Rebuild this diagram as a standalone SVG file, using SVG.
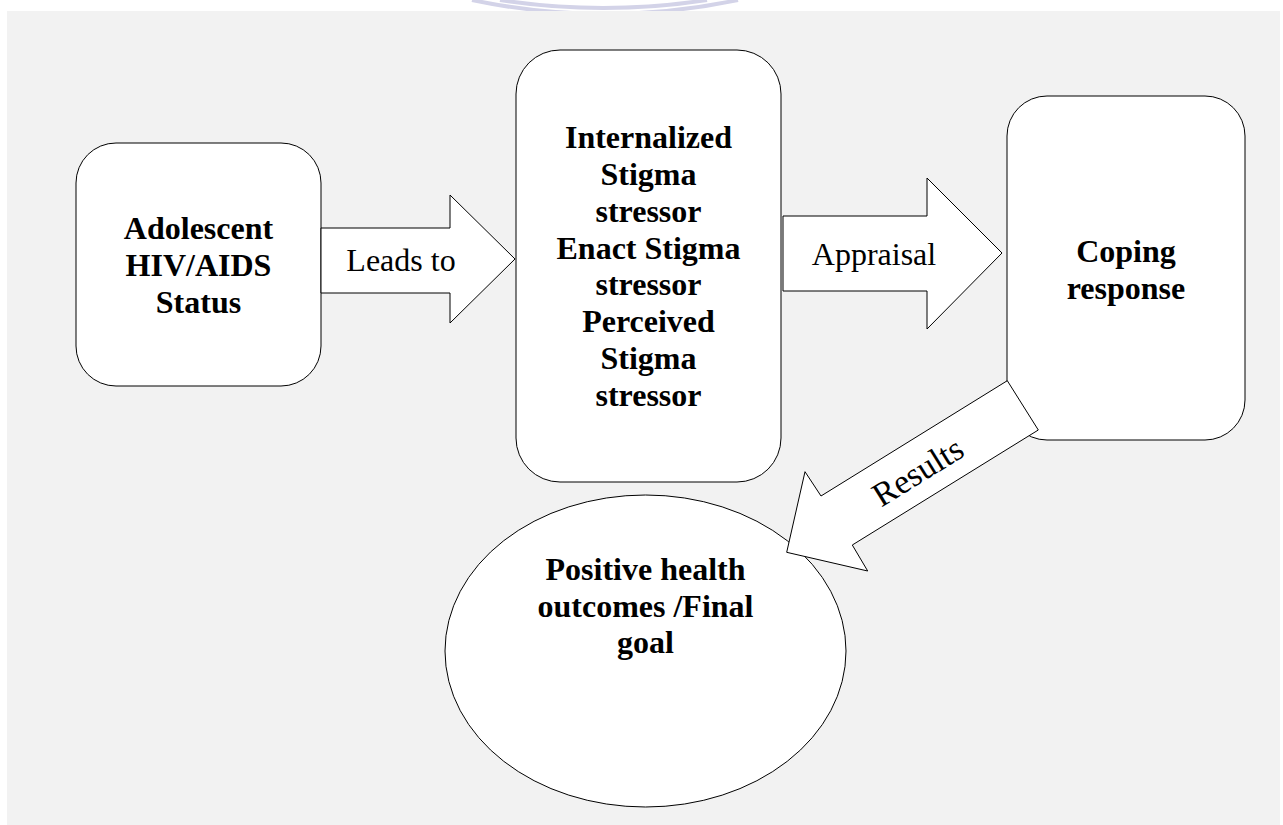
<svg xmlns="http://www.w3.org/2000/svg" width="1283" height="825" viewBox="0 0 1283 825">
  <style>
    .node { fill: #ffffff; stroke: #000000; stroke-width: 1; }
    .conn { fill: #ffffff; stroke: #000000; stroke-width: 1; stroke-linejoin: miter; }
    .bold { font-family: "Liberation Serif", "Times New Roman", serif; font-weight: bold; font-size: 32px; fill: #000000; text-anchor: middle; }
    .lbl { font-family: "Liberation Serif", "Times New Roman", serif; font-size: 32px; fill: #000000; text-anchor: middle; }
    .wm { fill: none; stroke: #d3d3e8; stroke-width: 4; }
  </style>
  <rect x="0" y="0" width="1283" height="825" fill="#ffffff"/>
  <g id="watermark">
    <path class="wm" d="M472,0 Q605,28 738,0"/>
    <path class="wm" d="M500,0 Q603,16 707,0"/>
  </g>
  <rect x="7" y="11" width="1273" height="814" fill="#f2f2f2"/>

  <g id="node-status">
    <rect class="node" x="76" y="143" width="245" height="243" rx="40" ry="40"/>
    <text class="bold" x="198.5" y="239">Adolescent</text>
    <text class="bold" x="198.5" y="276">HIV/AIDS</text>
    <text class="bold" x="198.5" y="313">Status</text>
  </g>

  <g id="node-stressors">
    <rect class="node" x="516" y="50" width="265" height="432" rx="44" ry="44"/>
    <text class="bold" x="648.5" y="148">Internalized</text>
    <text class="bold" x="648.5" y="185">Stigma</text>
    <text class="bold" x="648.5" y="222">stressor</text>
    <text class="bold" x="648.5" y="259">Enact Stigma</text>
    <text class="bold" x="648.5" y="295">stressor</text>
    <text class="bold" x="648.5" y="332">Perceived</text>
    <text class="bold" x="648.5" y="369">Stigma</text>
    <text class="bold" x="648.5" y="406">stressor</text>
  </g>

  <g id="node-coping">
    <rect class="node" x="1007" y="96" width="238" height="344" rx="40" ry="40"/>
    <text class="bold" x="1126" y="262">Coping</text>
    <text class="bold" x="1126" y="299">response</text>
  </g>

  <g id="node-outcome">
    <ellipse class="node" cx="645.5" cy="651" rx="200.5" ry="156"/>
    <text class="bold" x="645.5" y="580">Positive health</text>
    <text class="bold" x="645.5" y="617">outcomes /Final</text>
    <text class="bold" x="645.5" y="653">goal</text>
  </g>

  <g id="connectors">
    <g id="edge-leads-to">
      <polygon class="conn" points="321,228 450,228 450,195 515,259 450,323 450,293 321,293"/>
      <text class="lbl" x="401" y="271">Leads to</text>
    </g>
    <g id="edge-appraisal">
      <polygon class="conn" points="783,216 927,216 927,178 1002,253 927,329 927,291 783,291"/>
      <text class="lbl" x="874" y="265">Appraisal</text>
    </g>
    <g id="edge-results">
      <polygon class="conn" points="1007.3,380.7 1038.3,430 852.3,545 867.7,571 786.7,552.3 805,471.7 821,496"/>
      <text class="lbl" transform="translate(918,472) rotate(-31.75)" x="0" y="11" style="font-size:34px">Results</text>
    </g>
  </g>
</svg>
